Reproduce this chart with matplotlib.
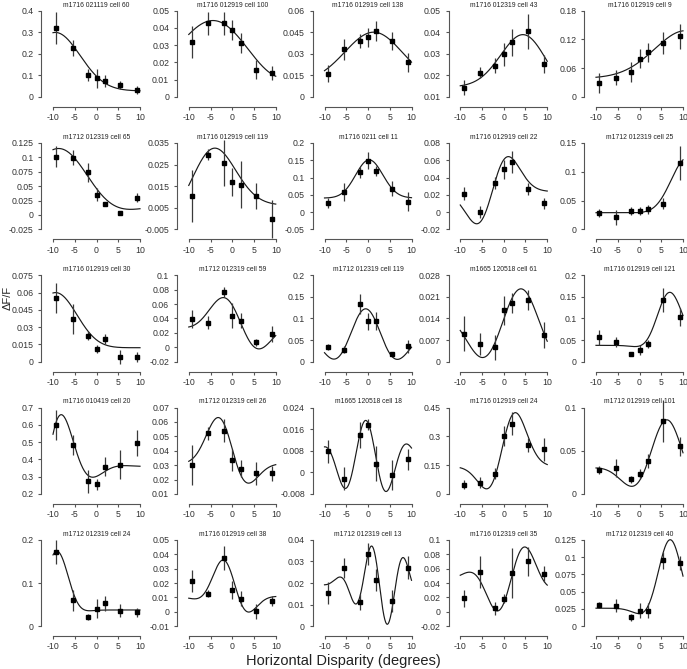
import numpy as np
import matplotlib
matplotlib.use("Agg")
import matplotlib.pyplot as plt

plt.rcParams["font.family"] = ["Liberation Sans", "DejaVu Sans"]

DISPARITY = [-9.2, -5.5, -1.9, 0, 1.9, 5.5, 9.2]

TITLES = [
    "m1716 021119 cell 60", "m1716 012919 cell 100", "m1716 012919 cell 138", "m1716 012319 cell 43", "m1716 012919 cell 9",
    "m1712 012319 cell 65", "m1716 012919 cell 119", "m1716 0211 cell 11", "m1716 012919 cell 22", "m1712 012319 cell 25",
    "m1716 012919 cell 30", "m1712 012319 cell 59", "m1712 012319 cell 119", "m1665 120518 cell 61", "m1716 012919 cell 121",
    "m1716 010419 cell 20", "m1712 012319 cell 26", "m1665 120518 cell 18", "m1716 012919 cell 24", "m1712 012919 cell 101",
    "m1712 012319 cell 24", "m1716 012919 cell 38", "m1712 012319 cell 13", "m1716 012319 cell 35", "m1712 012319 cell 40",
]

# mean dF/F per disparity, one list per cell
MEANS = [
    [0.318, 0.228, 0.102, 0.087, 0.073, 0.056, 0.031],
    [0.032, 0.0428, 0.0426, 0.0388, 0.0314, 0.0159, 0.014],
    [0.0163, 0.0333, 0.039, 0.0414, 0.046, 0.039, 0.024],
    [0.0142, 0.0213, 0.0246, 0.0297, 0.0353, 0.0405, 0.0252],
    [0.029, 0.040, 0.052, 0.080, 0.093, 0.112, 0.127],
    [0.1014, 0.0997, 0.0739, 0.0353, 0.0193, 0.0026, 0.0296],
    [0.0103, 0.0296, 0.0257, 0.0169, 0.0157, 0.0105, -0.0002],
    [0.0256, 0.0585, 0.1147, 0.1486, 0.1196, 0.068, 0.0304],
    [0.0214, -0.0001, 0.0336, 0.0493, 0.0582, 0.0264, 0.0099],
    [0.0287, 0.0207, 0.0316, 0.0322, 0.0345, 0.0448, 0.1155],
    [0.0555, 0.0368, 0.0224, 0.0112, 0.0195, 0.0043, 0.0043],
    [0.0393, 0.0343, 0.077, 0.0439, 0.0366, 0.007, 0.018],
    [0.0349, 0.027, 0.133, 0.093, 0.0946, 0.018, 0.035],
    [0.0091, 0.0057, 0.0046, 0.0166, 0.019, 0.020, 0.0086],
    [0.056, 0.046, 0.018, 0.027, 0.041, 0.143, 0.103],
    [0.600, 0.483, 0.272, 0.255, 0.358, 0.370, 0.495],
    [0.030, 0.052, 0.054, 0.0337, 0.0276, 0.0243, 0.0243],
    [0.0078, -0.0024, 0.014, 0.0177, 0.0032, -0.0009, 0.0048],
    [0.049, 0.058, 0.106, 0.302, 0.366, 0.253, 0.232],
    [0.0275, 0.030, 0.0167, 0.023, 0.038, 0.0845, 0.055],
    [0.172, 0.060, 0.022, 0.041, 0.053, 0.036, 0.032],
    [0.0214, 0.0127, 0.0374, 0.015, 0.0092, 0.0003, 0.0076],
    [0.0154, 0.0268, 0.0111, 0.0334, 0.0214, 0.0118, 0.0272],
    [0.019, 0.0556, 0.0047, 0.0185, 0.0542, 0.0702, 0.0528],
    [0.031, 0.0296, 0.0129, 0.0224, 0.0224, 0.0954, 0.0916],
]

# error bar half-lengths
ERRORS = [
    [0.074, 0.037, 0.028, 0.043, 0.028, 0.02, 0.018],
    [0.0092, 0.0067, 0.0065, 0.006, 0.0058, 0.0053, 0.004],
    [0.0058, 0.0073, 0.0047, 0.0064, 0.007, 0.0062, 0.0064],
    [0.0035, 0.0027, 0.0033, 0.0052, 0.0064, 0.0081, 0.0041],
    [0.0216, 0.016, 0.020, 0.020, 0.019, 0.023, 0.026],
    [0.018, 0.0138, 0.016, 0.011, 0.004, 0.0035, 0.008],
    [0.012, 0.0025, 0.0107, 0.0066, 0.011, 0.006, 0.0089],
    [0.015, 0.027, 0.015, 0.025, 0.015, 0.022, 0.027],
    [0.008, 0.007, 0.007, 0.0105, 0.013, 0.007, 0.006],
    [0.007, 0.013, 0.007, 0.007, 0.0075, 0.009, 0.030],
    [0.013, 0.0132, 0.004, 0.0036, 0.0043, 0.006, 0.0043],
    [0.0124, 0.0092, 0.0074, 0.0175, 0.0104, 0.005, 0.011],
    [0.007, 0.008, 0.023, 0.019, 0.021, 0.005, 0.015],
    [0.0056, 0.0037, 0.004, 0.0048, 0.0033, 0.0033, 0.0043],
    [0.017, 0.012, 0.005, 0.011, 0.010, 0.027, 0.021],
    [0.085, 0.057, 0.068, 0.03, 0.056, 0.083, 0.076],
    [0.014, 0.0045, 0.0078, 0.0076, 0.0059, 0.0078, 0.0053],
    [0.0043, 0.0043, 0.0048, 0.002, 0.0065, 0.0056, 0.004],
    [0.026, 0.028, 0.029, 0.052, 0.061, 0.037, 0.061],
    [0.005, 0.01, 0.004, 0.006, 0.008, 0.024, 0.011],
    [0.028, 0.025, 0.007, 0.023, 0.018, 0.015, 0.010],
    [0.0076, 0.0026, 0.0084, 0.0063, 0.0054, 0.005, 0.0034],
    [0.0052, 0.0046, 0.0038, 0.0052, 0.005, 0.0052, 0.0054],
    [0.012, 0.022, 0.0096, 0.0069, 0.035, 0.0206, 0.011],
    [0.004, 0.0095, 0.0048, 0.011, 0.011, 0.012, 0.01],
]

YTICKS = [
    [0, 0.1, 0.2, 0.3, 0.4],
    [0, 0.01, 0.02, 0.03, 0.04, 0.05],
    [0, 0.015, 0.03, 0.045, 0.06],
    [0.01, 0.02, 0.03, 0.04, 0.05],
    [0, 0.06, 0.12, 0.18],
    [-0.025, 0, 0.025, 0.05, 0.075, 0.1, 0.125],
    [-0.005, 0.005, 0.015, 0.025, 0.035],
    [-0.05, 0, 0.05, 0.1, 0.15, 0.2],
    [-0.02, 0, 0.02, 0.04, 0.06, 0.08],
    [0, 0.05, 0.1, 0.15],
    [0, 0.015, 0.03, 0.045, 0.06, 0.075],
    [-0.02, 0, 0.02, 0.04, 0.06, 0.08, 0.1],
    [0, 0.05, 0.1, 0.15, 0.2],
    [0, 0.007, 0.014, 0.021, 0.028],
    [0, 0.05, 0.1, 0.15, 0.2],
    [0.2, 0.3, 0.4, 0.5, 0.6, 0.7],
    [0.01, 0.02, 0.03, 0.04, 0.05, 0.06, 0.07],
    [-0.008, 0, 0.008, 0.016, 0.024],
    [0, 0.15, 0.3, 0.45],
    [0, 0.05, 0.1],
    [0, 0.1, 0.2],
    [-0.01, 0, 0.01, 0.02, 0.03, 0.04, 0.05],
    [0, 0.01, 0.02, 0.03, 0.04],
    [-0.02, 0, 0.02, 0.04, 0.06, 0.08, 0.1],
    [0, 0.025, 0.05, 0.075, 0.1, 0.125],
]

XTICKS = [-10, -5, 0, 5, 10]

# Gabor fit per cell: offset, amplitude, centre, sigma, frequency, phase
GABOR = [
    [0.028013, 0.27183, -9.459, 5.687, 1.389e-06, 0.06264],
    [0.027499, 0.017497, 2.84, 26.24, 0.0295, 1.407],
    [0.009882, 0.0819, 3.356, 6.953, 0.003399, 1.149],
    [0.014629, 0.0723, 7.255, 5.683, 0.005804, 1.284],
    [0.038945, 0.25356, 16, 8.454, 0.006832, 1.302],
    [0.017462, 0.47927, -4.739, 7.133, 0.003058, 1.406],
    [0.0061417, -0.13375, -7.358, 5.505, 0.00434, 1.72],
    [0.04057, -0.15021, -0.4167, 3.284, 0.01165, 2.373],
    [0.02372, -0.62821, -2.507, 3.647, 0.004463, 1.575],
    [0.028869, -0.26884, 9.781, 3.94, 0.005126, 1.913],
    [0.012086, -0.10659, -7.987, 5.115, 0.004548, 4.267],
    [0.029955, 0.050732, 1.461, 5.722, 0.04449, 1.359],
    [0.049935, 0.072391, -0.4848, 7.767, 0.06199, 0.02251],
    [0.010715, 0.012927, 3.227, 10.55, 0.05237, -0.2573],
    [0.037685, -0.78176, 5.564, 3.062, 0.00423, 1.709],
    [0.35898, -0.54376, -16, 7.599, 0.06338, -0.3307],
    [0.031114, 0.04525, -0.9119, 3.917, 0.03785, 1.121],
    [0.0047267, 0.014557, -0.06814, 6.725, 0.1014, 0.311],
    [0.14313, -2.8956, 0.06241, 3.249, 0.005304, 1.618],
    [0.029298, 0.056551, 6.145, 6.158, 0.05021, -0.05132],
    [0.037596, 0.51473, -7.941, 2.751, 0.007302, 1.331],
    [0.01062, 0.028419, -0.6532, 3.772, 0.05848, 0.8019],
    [0.019757, 0.019472, 3.175, 5.117, 0.1309, 2.049],
    [0.045059, -0.053182, 1.812, 5.666, 0.06833, 1.634],
    [0.026083, 0.099227, 7.157, 3.773, 0.04726, 0.05493],
]


def gabor(p, x):
    b, a, x0, s, f, ph = p
    d = x - x0
    return b + a * np.exp(-d ** 2 / (2 * s ** 2)) * np.cos(2 * np.pi * f * d + ph)


def style_axes(ax, yt):
    for side in ["top", "right"]:
        ax.spines[side].set_visible(False)
    ax.spines["left"].set_position(("outward", 5.8))
    ax.spines["bottom"].set_position(("outward", 7.2))
    ax.spines["left"].set_bounds(yt[0], yt[-1])
    ax.spines["bottom"].set_bounds(XTICKS[0], XTICKS[-1])
    for side in ["left", "bottom"]:
        ax.spines[side].set_color("#555555")
        ax.spines[side].set_linewidth(0.8)
    ax.set_yticks(yt)
    ax.set_yticklabels(["%g" % t for t in yt])
    ax.set_xticks(XTICKS)
    ax.set_xticklabels([str(t) for t in XTICKS])
    ax.tick_params(axis="y", length=2.5, width=0.8, color="#555555", labelsize=6.3, pad=3.3, labelcolor="#333333")
    ax.tick_params(axis="x", length=2.5, width=0.8, color="#555555", labelsize=6.3, pad=2, labelcolor="#333333")
    ax.patch.set_visible(False)


fig = plt.figure(figsize=(6.87, 6.69), dpi=100)
W, H = 687.0, 669.0
ppu = 4.35  # pixels per degree
curve_x = np.linspace(-10, 10, 300)
for i in range(25):
    r, c = divmod(i, 5)
    left = 53 + 135.75 * c - 0.8 * ppu
    top = 10.7 + 132.3 * r
    height = 86.3
    ax = fig.add_axes([left / W, 1 - (top + height) / H, 21.6 * ppu / W, height / H])
    yt = YTICKS[i]
    ax.set_xlim(-10.8, 10.8)
    ax.set_ylim(yt[0], yt[-1])
    ax.plot(curve_x, gabor(GABOR[i], curve_x), color="#1a1a1a", lw=0.85, clip_on=False)
    ax.errorbar(DISPARITY, MEANS[i], yerr=ERRORS[i], fmt="s", ms=2.2, color="black",
                ecolor="#3a3a3a", elinewidth=0.9, capsize=0, clip_on=False)
    ax.set_title(TITLES[i], fontsize=4.9, pad=3, color="#222222")
    style_axes(ax, yt)

fig.text(8 / W, 1 - 298 / H, "\u0394F/F", rotation=90, ha="center", va="center", fontsize=8, color="#222222")
fig.text(343 / W, 1 - 661 / H, "Horizontal Disparity (degrees)", ha="center", va="center", fontsize=10.5, color="#222222")
fig.savefig("out.png", dpi=100)
